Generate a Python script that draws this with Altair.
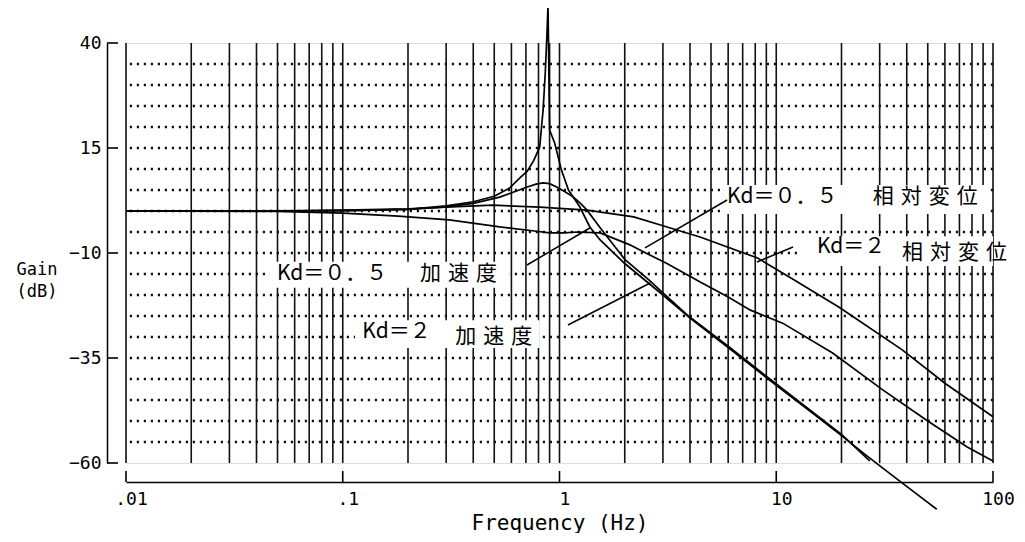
import altair as alt
import pandas as pd

# ---------------- data ----------------
acc05_freq = [0.01, 0.05, 0.1, 0.2, 0.3, 0.4, 0.5, 0.59, 0.66, 0.71, 0.76, 0.81, 0.84, 0.86, 0.875,
              0.885, 0.89, 0.9, 0.95, 1.02, 1.1, 1.24, 1.38, 1.54, 2.0, 3.0, 4.0, 6.0, 10.0, 15.0,
              20.0, 26.2, 35.0, 45.0, 55.0]
acc05_db = [0, 0, 0.1, 0.4, 1.2, 2.2, 3.5, 5.5, 8.0, 9.5, 12.0, 15.2, 24.0, 33.0, 42.0,
            49.0, 40.0, 19.3, 16.2, 9.8, 5.0, 1.0, -3.8, -6.9, -12.5, -20.0, -25.5, -32.5, -41.5, -48.5,
            -53.5, -58.3, -63.3, -67.6, -71.0]

acc2_freq = [0.01, 0.1, 0.2, 0.3, 0.4, 0.53, 0.62, 0.71, 0.78, 0.84, 0.9, 0.97, 1.06, 1.16, 1.25,
             1.34, 1.54, 2.0, 2.6, 3.0, 4.0, 6.0, 10.0, 20.0, 27.0]
acc2_db = [0, 0.1, 0.4, 1.0, 1.8, 3.3, 4.6, 5.7, 6.4, 6.7, 6.5, 5.7, 4.6, 3.3, 1.8,
           0.2, -4.0, -11.5, -16.5, -19.5, -25.3, -32.2, -41.2, -53.2, -59.5]

rel05_freq = [0.01, 0.05, 0.1, 0.18, 0.31, 0.53, 0.75, 0.9, 1.05, 1.2, 1.54, 2.1, 2.5, 3.1, 4.5,
              6.0, 7.6, 10.7, 18.2, 31.0, 50.0, 76.0, 100.0]
rel05_db = [0, -0.1, -0.5, -1.2, -2.1, -3.8, -4.7, -5.2, -5.2, -5.0, -5.2, -8.0, -10.0, -12.4, -17.0,
            -20.5, -23.6, -26.7, -33.8, -42.6, -50.0, -56.2, -59.5]

rel2_freq = [0.01, 0.05, 0.1, 0.2, 0.3, 0.49, 0.81, 1.34, 2.2, 3.0, 4.45, 8.2, 12.0, 19.5, 38.0, 60.0, 100.0]
rel2_db = [0, 0, 0.2, 0.5, 0.9, 1.4, 0.9, 0.2, -1.4, -3.5, -6.2, -11.2, -16.3, -22.9, -33.0, -41.0, -49.0]

x_tick_values = [0.01, 0.1, 1, 10, 100]
y_tick_values = [40, 15, -10, -35, -60]
grid_freqs = [m * d for d in [0.01, 0.1, 1, 10] for m in range(1, 10)] + [100]
grid_db = list(range(-55, 40, 5))

# ---------------- tables ----------------
curves = pd.concat([
    pd.DataFrame({"freq": acc05_freq, "db": acc05_db, "series": "Kd=0.5 加速度"}),
    pd.DataFrame({"freq": acc2_freq, "db": acc2_db, "series": "Kd=2 加速度"}),
    pd.DataFrame({"freq": rel05_freq, "db": rel05_db, "series": "Kd=0.5 相対変位"}),
    pd.DataFrame({"freq": rel2_freq, "db": rel2_db, "series": "Kd=2 相対変位"}),
], ignore_index=True)
curves["order"] = range(len(curves))

SP = "\u2004"
labels = pd.DataFrame({
    "text": ["Kd＝０．５", SP.join("相対変位"), "Kd＝２", SP.join("相対変位"),
             "Kd＝０．５", SP.join("加速度"), "Kd＝２", SP.join("加速度")],
    "freq": [5.93, 27.9, 15.4, 38.0, 0.0497, 0.227, 0.123, 0.33],
    "db": [3.3, 3.3, -8.6, -10.0, -15.0, -15.0, -28.8, -30.0],
})

leaders = pd.DataFrame({
    "f1": [0.708, 1.094, 5.93, 11.95],
    "d1": [-12.86, -27.14, 2.62, -8.57],
    "f2": [1.38, 2.62, 2.48, 8.15],
    "d2": [-4.05, -17.14, -8.8, -12.14],
})

boxes = pd.DataFrame({
    "f1": [5.5, 12.5, 0.046, 0.114],
    "f2": [97.0, 100.0, 0.59, 0.81],
    "d1": [6.2, -6.0, -12.1, -26.0],
    "d2": [-0.7, -13.1, -18.3, -32.6],
})

W, H = 867, 420
xs = alt.Scale(type="log", domain=[0.01, 100], nice=False)
ys = alt.Scale(domain=[-60, 40], nice=False, zero=False)
MONO = "DejaVu Sans Mono"
CJK = "Noto Sans CJK JP"

x_axis = alt.Axis(values=x_tick_values,
                  labelExpr="datum.value < 0.05 ? '.01' : datum.value < 0.5 ? '.1' : datum.value < 5 ? '1' : datum.value < 50 ? '10' : '100'",
                  offset=19, tickSize=0, grid=False, domainColor="black", domainWidth=1.5,
                  labelFont=MONO, labelFontSize=18, labelColor="black", labelPadding=8,
                  labelOffset=5, labelFlush=False, labelOverlap=False, labelBound=False,
                  title="Frequency (Hz)", titleFont=MONO, titleFontSize=21,
                  titleFontWeight="normal", titleColor="black", titlePadding=4)
y_axis = alt.Axis(values=y_tick_values, offset=19, tickSize=0, grid=False,
                  domainColor="black", domainWidth=1.5, labelFont=MONO, labelFontSize=18,
                  labelColor="black", labelPadding=6, labelOverlap=False, labelBound=False, title=None)

vgrid = alt.Chart(pd.DataFrame({"freq": grid_freqs})).mark_rule(
    color="#111", strokeWidth=1.6).encode(
    x=alt.X("freq:Q", scale=xs, axis=x_axis))

hgrid = alt.Chart(pd.DataFrame({"db": grid_db})).mark_rule(
    color="#111", strokeWidth=2.4, strokeDash=[2.2, 4.8]).encode(
    y=alt.Y("db:Q", scale=ys, axis=y_axis))

box_layer = alt.Chart(boxes).mark_rect(color="white").encode(
    x=alt.X("f1:Q", scale=xs), x2="f2:Q",
    y=alt.Y("d1:Q", scale=ys), y2="d2:Q")

lines = alt.Chart(curves).mark_line(color="black", strokeWidth=1.7, clip=False).encode(
    x=alt.X("freq:Q", scale=xs),
    y=alt.Y("db:Q", scale=ys),
    detail="series:N",
    order="order:Q")

leader_layer = alt.Chart(leaders).mark_rule(color="black", strokeWidth=1.5).encode(
    x=alt.X("f1:Q", scale=xs), x2="f2:Q",
    y=alt.Y("d1:Q", scale=ys), y2="d2:Q")

text_layer = alt.Chart(labels).mark_text(
    font=CJK, fontSize=21, align="left", baseline="middle", color="black").encode(
    x=alt.X("freq:Q", scale=xs),
    y=alt.Y("db:Q", scale=ys),
    text="text:N")

ytick_layer = alt.Chart(pd.DataFrame({"db": y_tick_values})).mark_rule(
    color="black", strokeWidth=1.6).encode(
    y=alt.Y("db:Q", scale=ys),
    x=alt.value(-19), x2=alt.value(-8))

xtick_layer = alt.Chart(pd.DataFrame({"freq": x_tick_values})).mark_rule(
    color="black", strokeWidth=1.6).encode(
    x=alt.X("freq:Q", scale=xs),
    y=alt.value(H + 19), y2=alt.value(H + 8))

gain_title = alt.Chart(pd.DataFrame({"t": ["Gain"]})).mark_text(
    font=MONO, fontSize=17, color="black", align="center", baseline="middle").encode(
    x=alt.value(-89), y=alt.value(227), text="t:N")
gain_title2 = alt.Chart(pd.DataFrame({"t": ["(dB)"]})).mark_text(
    font=MONO, fontSize=17, color="black", align="center", baseline="middle").encode(
    x=alt.value(-89), y=alt.value(249), text="t:N")

chart = alt.layer(
    vgrid, hgrid, box_layer, lines, leader_layer, text_layer,
    ytick_layer, xtick_layer, gain_title, gain_title2
).properties(
    width=W, height=H,
    padding={"left": 118, "top": 35, "right": 23, "bottom": 70},
    autosize=alt.AutoSizeParams(type="none"),
).configure_view(
    stroke="black", strokeWidth=1.8
).configure(background="white")

chart.save("out.html", embed_options={"renderer": "svg", "actions": False})
